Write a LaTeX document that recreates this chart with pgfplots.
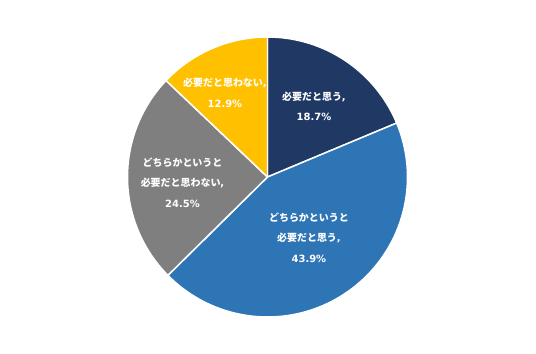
\documentclass[border=0pt]{standalone}
\usepackage{pgfplots}
\pgfplotsset{compat=1.18}
\usepackage{pgfplotstable}
\usepackage{fontspec}
\setmainfont{DejaVu Sans}
\newfontfamily\jp{Noto Sans CJK JP}
\definecolor{cnavy}{HTML}{203864}
\definecolor{cblue}{HTML}{2E75B6}
\definecolor{cgray}{HTML}{7F7F7F}
\definecolor{cgold}{HTML}{FFC000}
\pgfplotstableread{
value
18.7
43.9
24.5
12.9
}\piedata
\begin{document}
\begin{tikzpicture}[lbl/.style={text=white, align=center, font=\bfseries\fontsize{10}{20.5}\selectfont}]
\pgfplotstablegetelem{0}{value}\of\piedata \let\va\pgfplotsretval
\pgfplotstablegetelem{1}{value}\of\piedata \let\vb\pgfplotsretval
\pgfplotstablegetelem{2}{value}\of\piedata \let\vc\pgfplotsretval
\pgfplotstablegetelem{3}{value}\of\piedata \let\vd\pgfplotsretval
\pgfmathsetmacro\aA{90}
\pgfmathsetmacro\aB{\aA-3.6*\va}
\pgfmathsetmacro\aC{\aB-3.6*\vb}
\pgfmathsetmacro\aD{\aC-3.6*\vc}
\pgfmathsetmacro\aE{\aD-3.6*\vd}
\begin{axis}[
  scale only axis, width=536bp, height=354bp,
  xmin=-1.9107, xmax=1.9179, ymin=-1.2643, ymax=1.2643,
  hide axis, clip=false,
  every axis plot/.append style={draw=white, line width=1.5pt, line join=round, samples=90},
]
\path (rel axis cs:0,0) rectangle (rel axis cs:1,1);
\addplot[fill=cnavy, domain=\aB:\aA] ({cos(x)},{sin(x)}) -- (0,0) -- cycle;
\addplot[fill=cblue, domain=\aC:\aB] ({cos(x)},{sin(x)}) -- (0,0) -- cycle;
\addplot[fill=cgray, domain=\aD:\aC] ({cos(x)},{sin(x)}) -- (0,0) -- cycle;
\addplot[fill=cgold, domain=\aE:\aD] ({cos(x)},{sin(x)}) -- (0,0) -- cycle;
\node[lbl] at (axis cs:0.332,0.507) {{\jp\bfseries 必要だと思う},\\18.7\%};
\node[lbl] at (axis cs:0.296,-0.432) {{\jp\bfseries どちらかというと}\\{\jp\bfseries 必要だと思う},\\43.9\%};
\node[lbl] at (axis cs:-0.607,-0.041) {{\jp\bfseries どちらかというと}\\{\jp\bfseries 必要だと思わない},\\24.5\%};
\node[lbl] at (axis cs:-0.304,0.602) {{\jp\bfseries 必要だと思わない},\\12.9\%};
\end{axis}
\end{tikzpicture}
\end{document}
